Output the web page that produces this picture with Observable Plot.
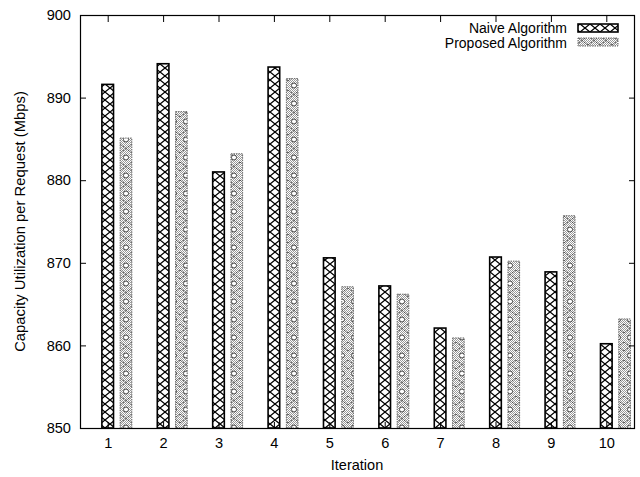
<!DOCTYPE html>
<html><head><meta charset="utf-8">
<script src="https://cdn.jsdelivr.net/npm/d3@7"></script>
<script src="https://cdn.jsdelivr.net/npm/@observablehq/plot@0.6"></script>
<style>
body{margin:0;background:#fff}
svg{font-family:"Liberation Sans",Arial,sans-serif}
</style>
</head><body><div id="chart"></div>
<script>
const iterations = [1, 2, 3, 4, 5, 6, 7, 8, 9, 10];
const naive = [891.6, 894.1, 881.0, 893.7, 870.6, 867.2, 862.1, 870.7, 868.9, 860.2];
const proposed = [885.1, 888.3, 883.2, 892.3, 867.1, 866.2, 860.9, 870.2, 875.7, 863.2];
const seriesNames = ["Naive Algorithm", "Proposed Algorithm"];
const yTicks = [850, 860, 870, 880, 890, 900];
const xTitle = "Iteration";
const yTitle = "Capacity Utilization per Request (Mbps)";

const naiveRows = iterations.map((it, i) => ({iter: it, series: seriesNames[0], value: naive[i]}));
const propRows = iterations.map((it, i) => ({iter: it, series: seriesNames[1], value: proposed[i]}));
const base = yTicks[0];

const plot = Plot.plot({
  width: 640, height: 477,
  marginLeft: 80, marginRight: 6, marginTop: 15, marginBottom: 49,
  style: {fontFamily: '"Liberation Sans", Arial, sans-serif', fontSize: "14.6px", color: "black", background: "white", overflow: "visible"},
  x: {domain: [0.5, 10.5]},
  y: {domain: [yTicks[0], yTicks[yTicks.length - 1]]},
  marks: [
    Plot.rectY(naiveRows, {x1: d => d.iter - 0.105, x2: d => d.iter + 0.105, y1: base, y2: "value",
      fill: "url(#pat-naive)", stroke: "black", strokeWidth: 1.6}),
    Plot.rectY(propRows, {x1: d => d.iter + 0.225, x2: d => d.iter + 0.435, y1: base, y2: "value",
      fill: "url(#pat-prop)", stroke: "#666", strokeWidth: 1, strokeDasharray: "1.5,1"}),
    Plot.frame({stroke: "black", strokeWidth: 1.2}),
    Plot.axisY({ticks: yTicks, tickSize: -6, tickPadding: 15.5, label: null, fontSize: 14.6}),
    Plot.axisY({anchor: "right", ticks: yTicks, tickSize: -6, tickFormat: () => "", label: null}),
    Plot.axisX({ticks: iterations, tickSize: -6, tickPadding: 15, label: null, fontSize: 14.6}),
    Plot.axisX({anchor: "top", ticks: iterations, tickSize: -6, tickFormat: () => "", label: null})
  ]
});

const svg = d3.select(plot);
const defs = svg.insert("defs", ":first-child");
// crosshatch pattern
const pn = defs.append("pattern").attr("id", "pat-naive").attr("patternUnits", "userSpaceOnUse")
  .attr("width", 10).attr("height", 8);
pn.append("rect").attr("width", 10).attr("height", 8).attr("fill", "white");
pn.append("path").attr("d", "M0,0L10,8M10,0L0,8").attr("stroke", "black").attr("stroke-width", 1.3);
// dotted pattern
const pp = defs.append("pattern").attr("id", "pat-prop").attr("patternUnits", "userSpaceOnUse")
  .attr("width", 12).attr("height", 18);
pp.append("rect").attr("width", 12).attr("height", 18).attr("fill", "white");
let dots = "";
for (let yy = 0; yy < 18; yy++) for (let xx = 0; xx < 12; xx++) if ((xx + yy) % 2 === 0) dots += `M${xx},${yy}h1v1h-1z`;
pp.append("path").attr("d", dots).attr("fill", "#999");
pp.append("path").attr("d", "M0,0L12,9M12,0L0,9").attr("stroke", "#333").attr("stroke-width", 1).attr("stroke-dasharray", "1,1");
pp.append("circle").attr("cx", 6).attr("cy", 13.5).attr("r", 2.5).attr("fill", "white").attr("stroke", "#444").attr("stroke-width", 1);

// legend
const lg = svg.append("g").attr("font-size", 14).attr("fill", "black");
seriesNames.forEach((name, i) => {
  lg.append("text").attr("x", 567).attr("y", 28 + i * 15).attr("dy", "0.35em").attr("text-anchor", "end").text(name);
  lg.append("rect").attr("x", 578).attr("y", 24 + i * 14).attr("width", 40).attr("height", 8)
    .attr("fill", i === 0 ? "url(#pat-naive)" : "url(#pat-prop)")
    .attr("stroke", i === 0 ? "black" : "#666").attr("stroke-width", i === 0 ? 1.6 : 1)
    .attr("stroke-dasharray", i === 0 ? null : "1.5,1");
});
// axis titles
svg.append("text").attr("transform", "translate(20,221.5) rotate(-90)").attr("text-anchor", "middle")
  .attr("dy", "0.35em").attr("font-size", 14.8).attr("fill", "black").text(yTitle);
svg.append("text").attr("x", 357).attr("y", 465).attr("text-anchor", "middle")
  .attr("dy", "0.35em").attr("font-size", 14.5).attr("fill", "black").text(xTitle);

document.getElementById("chart").appendChild(plot);
</script>
</body></html>
